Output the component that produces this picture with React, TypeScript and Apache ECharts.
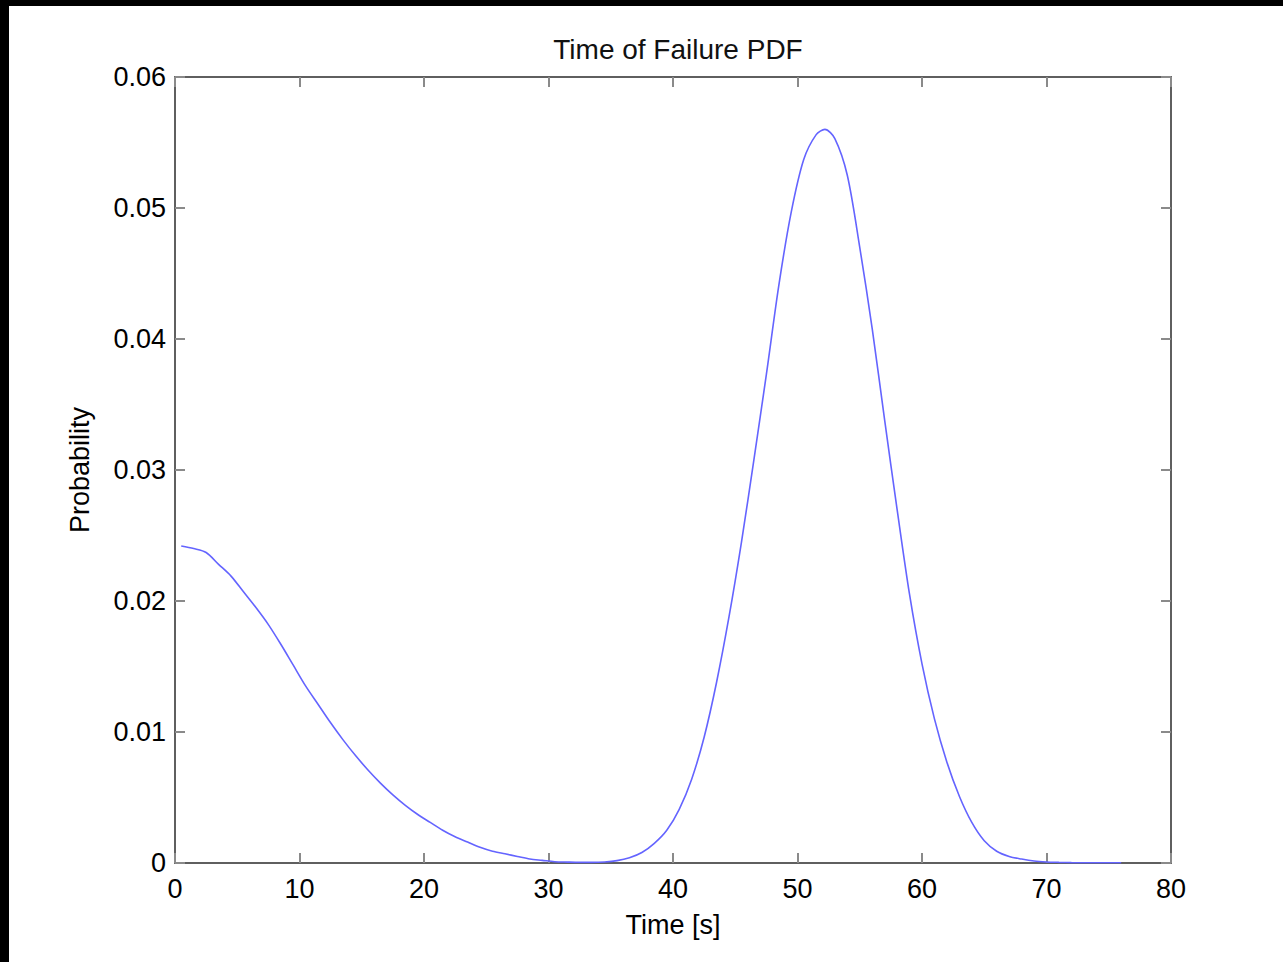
import React, { useEffect, useRef } from "react";
import * as echarts from "echarts";

const TITLE = "Time of Failure PDF";
const X_LABEL = "Time [s]";
const Y_LABEL = "Probability";

const timeS: number[] = [
  0.5, 1.5, 2.5, 3.5, 4.5, 5.5, 6.5, 7.5, 8.5, 9.5,
  10.5, 11.5, 12.5, 13.5, 14.5, 15.5, 16.5, 17.5, 18.5, 19.5,
  20.5, 21.5, 22.5, 23.5, 24.5, 25.5, 26.5, 27.5, 28.5, 29.5,
  30.5, 31.5, 32.5, 33.5, 34.5, 35.5, 36.5, 37.5, 38.5, 39.5,
  40.5, 41.5, 42.5, 43.5, 44.5, 45.5, 46.5, 47.5, 48.5, 49.5,
  50.5, 51.5, 52.2, 53, 54, 55, 56, 57, 58, 59,
  60, 61, 62, 63, 64, 65, 66, 67, 68, 69,
  70, 71, 72, 73, 74, 75, 76,
];

const probability: number[] = [
  0.0242, 0.024, 0.0237, 0.0228, 0.0219, 0.0207, 0.0195, 0.0182, 0.0167, 0.0151,
  0.0135, 0.0121, 0.0107, 0.0094, 0.0082, 0.0071, 0.0061, 0.0052, 0.0044, 0.0037,
  0.0031, 0.0025, 0.002, 0.0016, 0.0012, 0.0009, 0.0007, 0.0005, 0.0003, 0.0002,
  0.0001, 0.00007, 0.00005, 0.00005, 0.00008, 0.00018, 0.0004, 0.0008, 0.0015, 0.0025,
  0.0041, 0.0064, 0.0096, 0.0138, 0.0188, 0.0245, 0.0308, 0.0373, 0.0441, 0.0497,
  0.0537, 0.0556, 0.056, 0.0553, 0.0525, 0.047, 0.0408, 0.0338, 0.027, 0.0205,
  0.0152, 0.011, 0.0077, 0.0051, 0.0031, 0.0017, 0.0009, 0.0005, 0.0003, 0.00015,
  0.00008, 0.00005, 0.00003, 0.00002, 0.00002, 0.00002, 0.00002,
];

const yTickLabels: string[] = ["0", "0.01", "0.02", "0.03", "0.04", "0.05", "0.06"];

const FONT = "'Liberation Sans', Arial, Helvetica, sans-serif";

export default function App() {
  const ref = useRef<HTMLDivElement>(null);

  useEffect(() => {
    if (!ref.current) return;
    const chart = echarts.init(ref.current, undefined, { renderer: "svg" });
    const axisLine = { show: true, onZero: false, lineStyle: { color: "#5f5f5f", width: 2 } };
    const axisTick = { show: true, inside: true, length: 10, lineStyle: { color: "#8a8a8a", width: 2 } };
    const labelStyle = { color: "#000", fontSize: 27, fontFamily: FONT };
    chart.setOption({
      animation: false,
      backgroundColor: "transparent",
      title: {
        text: TITLE,
        left: 673,
        top: 30,
        textAlign: "center",
        textStyle: { color: "#111", fontSize: 28, fontWeight: "normal", fontFamily: FONT },
      },
      grid: { left: 175, right: 112, top: 77, bottom: 99, containLabel: false },
      xAxis: [
        {
          type: "value",
          min: 0,
          max: 80,
          interval: 10,
          position: "bottom",
          name: X_LABEL,
          nameLocation: "middle",
          nameGap: 48,
          nameTextStyle: labelStyle,
          axisLine,
          axisTick,
          splitLine: { show: false },
          axisLabel: { ...labelStyle, margin: 12 },
        },
        {
          type: "value",
          min: 0,
          max: 80,
          interval: 10,
          position: "top",
          axisLine,
          axisTick,
          splitLine: { show: false },
          axisLabel: { show: false },
        },
      ],
      yAxis: [
        {
          type: "value",
          min: 0,
          max: 0.06,
          interval: 0.01,
          position: "left",
          name: Y_LABEL,
          nameLocation: "middle",
          nameGap: 82,
          nameRotate: 90,
          nameTextStyle: labelStyle,
          axisLine,
          axisTick,
          splitLine: { show: false },
          axisLabel: {
            ...labelStyle,
            margin: 9,
            formatter: (_v: number, i: number) => yTickLabels[i] ?? "",
          },
        },
        {
          type: "value",
          min: 0,
          max: 0.06,
          interval: 0.01,
          position: "right",
          axisLine,
          axisTick,
          splitLine: { show: false },
          axisLabel: { show: false },
        },
      ],
      series: [
        {
          type: "line",
          data: timeS.map((t, i) => [t, probability[i]]),
          showSymbol: false,
          smooth: 0.3,
          lineStyle: { color: "#6464ff", width: 1.6 },
          xAxisIndex: 0,
          yAxisIndex: 0,
          z: 3,
        },
      ],
    });
    return () => chart.dispose();
  }, []);

  return (
    <div style={{ position: "absolute", left: 0, top: 0, width: 1283, height: 962, background: "#000", overflow: "hidden" }}>
      <div style={{ position: "absolute", left: 9, top: 6, right: 0, bottom: 0, background: "#fff" }} />
      <div ref={ref} style={{ position: "absolute", left: 0, top: 0, width: 1283, height: 962 }} />
    </div>
  );
}
